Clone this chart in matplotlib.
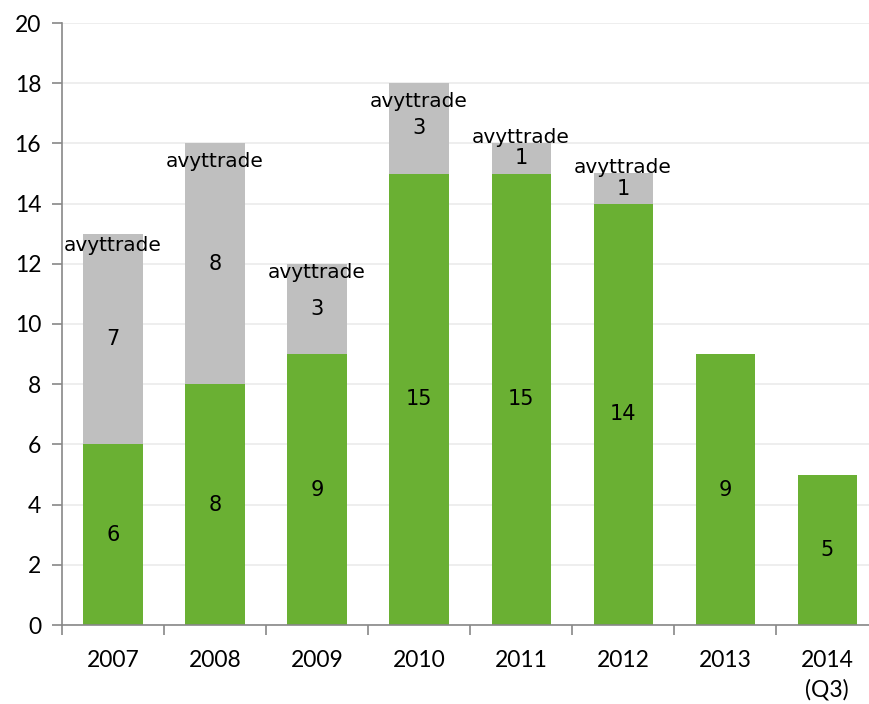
import numpy as np
import matplotlib.pyplot as plt

# antal per år: kvar (grön) och avyttrade (grå)
years = ['2007', '2008', '2009', '2010', '2011', '2012', '2013', '2014\n(Q3)']
kvar = [6, 8, 9, 15, 15, 14, 9, 5]
avyttrade = [7, 8, 3, 3, 1, 1, 0, 0]
avytt_label_y = [12.6, 15.4, 11.7, 17.4, 16.2, 15.2]

green = '#6AB033'
grey = '#BFBFBF'

fig = plt.figure(figsize=(8.69, 7.04), dpi=100)
ax = fig.add_axes([62 / 869, 79 / 704, 807 / 869, 602 / 704])

x = np.arange(len(years))
w = 0.58
ax.bar(x, kvar, width=w, color=green, zorder=2)
ax.bar(x, avyttrade, width=w, bottom=kvar, color=grey, zorder=2)

for i in range(len(years)):
    ax.text(x[i], kvar[i] / 2, str(kvar[i]), ha='center', va='center',
            fontsize=15, family='DejaVu Sans', zorder=3)
    if avyttrade[i] > 0:
        ax.text(x[i], kvar[i] + avyttrade[i] / 2, str(avyttrade[i]),
                ha='center', va='center', fontsize=15, family='DejaVu Sans', zorder=3)
for i, yl in enumerate(avytt_label_y):
    ax.text(x[i], yl, 'avyttrade', ha='center', va='center',
            fontsize=14.5, family='DejaVu Sans', zorder=3)

ax.set_ylim(0, 20)
ax.set_xlim(-0.5, 7.41)
ax.set_yticks(range(0, 21, 2))
ax.yaxis.grid(True, color='#EBEBEB', linewidth=1.2, zorder=0)
ax.set_axisbelow(True)

ax.set_xticks(x)
ax.set_xticklabels(years, fontsize=16.5, family='Lato', linespacing=1.45)
ax.set_xticks(np.arange(-0.5, 7.5, 1), minor=True)
ax.tick_params(axis='x', which='major', length=0, pad=18)
ax.tick_params(axis='x', which='minor', length=7, color='#888888', width=1.2)
ax.tick_params(axis='y', length=7, color='#888888', width=1.2, labelsize=16.5, pad=8)
for lab in ax.get_yticklabels():
    lab.set_family('Lato')

for s in ['top', 'right']:
    ax.spines[s].set_visible(False)
for s in ['left', 'bottom']:
    ax.spines[s].set_color('#888888')
    ax.spines[s].set_linewidth(1.2)

fig.savefig('out.png', dpi=100)
